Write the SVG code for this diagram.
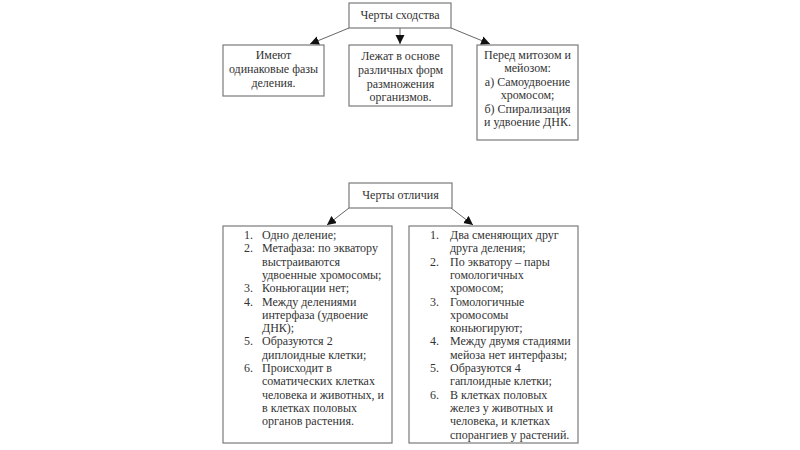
<svg xmlns="http://www.w3.org/2000/svg" width="800" height="450" viewBox="0 0 800 450">
<defs>
<marker id="ah" markerUnits="userSpaceOnUse" markerWidth="10" markerHeight="10" refX="9" refY="4.5" orient="auto">
<path d="M0,0 L9,4.5 L0,9 z" fill="#111"/>
</marker>
<style>
.box{fill:#fff;stroke:#7a7a7a;stroke-width:1.2}
text{font-family:"Liberation Serif","Times New Roman",serif;font-size:12px;fill:#333}
.c{text-anchor:middle}
.n{text-anchor:end}
.con line{stroke:#666;stroke-width:1;marker-end:url(#ah)}
</style>
</defs>
<rect width="800" height="450" fill="#fff"/>

<g class="con" id="connectors">
<line x1="349" y1="28" x2="310" y2="44"/>
<line x1="400" y1="28" x2="400" y2="44"/>
<line x1="451" y1="28" x2="490" y2="44"/>
<line x1="349" y1="208" x2="327" y2="225"/>
<line x1="451" y1="208" x2="473" y2="225"/>
</g>

<g id="similarity">
<rect class="box" x="349" y="3" width="102" height="25"/>
<text class="c" x="400" y="19">Черты сходства</text>
</g>

<g id="sim1">
<rect class="box" x="223" y="45" width="101" height="51"/>
<text class="c" x="273.5" y="59">Имеют</text>
<text class="c" x="273.5" y="73">одинаковые фазы</text>
<text class="c" x="273.5" y="87">деления.</text>
</g>

<g id="sim2">
<rect class="box" x="349" y="45" width="103" height="61"/>
<text class="c" x="400.5" y="60">Лежат в основе</text>
<text class="c" x="400.5" y="74">различных форм</text>
<text class="c" x="400.5" y="88">размножения</text>
<text class="c" x="400.5" y="101">организмов.</text>
</g>

<g id="sim3">
<rect class="box" x="477" y="45" width="101" height="95"/>
<text class="c" x="527.5" y="59">Перед митозом и</text>
<text class="c" x="527.5" y="72.4">мейозом:</text>
<text class="c" x="527.5" y="85.8">а) Самоудвоение</text>
<text class="c" x="527.5" y="99.2">хромосом;</text>
<text class="c" x="527.5" y="112.6">б) Спирализация</text>
<text class="c" x="527.5" y="126">и удвоение ДНК.</text>
</g>

<g id="difference">
<rect class="box" x="349" y="183" width="103" height="25"/>
<text class="c" x="400.5" y="199">Черты отличия</text>
</g>

<g id="mitosis">
<rect class="box" x="223" y="226" width="169" height="217"/>
<text class="n" x="253" y="239">1.</text>
<text x="262" y="239">Одно деление;</text>
<text class="n" x="253" y="252.3">2.</text>
<text x="262" y="252.3">Метафаза: по экватору</text>
<text x="262" y="265.6">выстраиваются</text>
<text x="262" y="278.9">удвоенные хромосомы;</text>
<text class="n" x="253" y="292.2">3.</text>
<text x="262" y="292.2">Коньюгации нет;</text>
<text class="n" x="253" y="305.5">4.</text>
<text x="262" y="305.5">Между делениями</text>
<text x="262" y="318.8">интерфаза (удвоение</text>
<text x="262" y="332.1">ДНК);</text>
<text class="n" x="253" y="345.4">5.</text>
<text x="262" y="345.4">Образуются 2</text>
<text x="262" y="358.7">диплоидные клетки;</text>
<text class="n" x="253" y="372">6.</text>
<text x="262" y="372">Происходит в</text>
<text x="262" y="385.3">соматических клетках</text>
<text x="262" y="398.6">человека и животных, и</text>
<text x="262" y="411.9">в клетках половых</text>
<text x="262" y="425.2">органов растения.</text>
</g>

<g id="meiosis">
<rect class="box" x="409" y="226" width="169" height="217"/>
<text class="n" x="439" y="239">1.</text>
<text x="450" y="239">Два сменяющих друг</text>
<text x="450" y="252.3">друга деления;</text>
<text class="n" x="439" y="265.6">2.</text>
<text x="450" y="265.6">По экватору – пары</text>
<text x="450" y="278.9">гомологичных</text>
<text x="450" y="292.2">хромосом;</text>
<text class="n" x="439" y="305.5">3.</text>
<text x="450" y="305.5">Гомологичные</text>
<text x="450" y="318.8">хромосомы</text>
<text x="450" y="332.1">коньюгируют;</text>
<text class="n" x="439" y="345.4">4.</text>
<text x="450" y="345.4">Между двумя стадиями</text>
<text x="450" y="358.7">мейоза нет интерфазы;</text>
<text class="n" x="439" y="372">5.</text>
<text x="450" y="372">Образуются 4</text>
<text x="450" y="385.3">гаплоидные клетки;</text>
<text class="n" x="439" y="398.6">6.</text>
<text x="450" y="398.6">В клетках половых</text>
<text x="450" y="411.9">желез у животных и</text>
<text x="450" y="425.2">человека, и клетках</text>
<text x="450" y="438.5">спорангиев у растений.</text>
</g>
</svg>
